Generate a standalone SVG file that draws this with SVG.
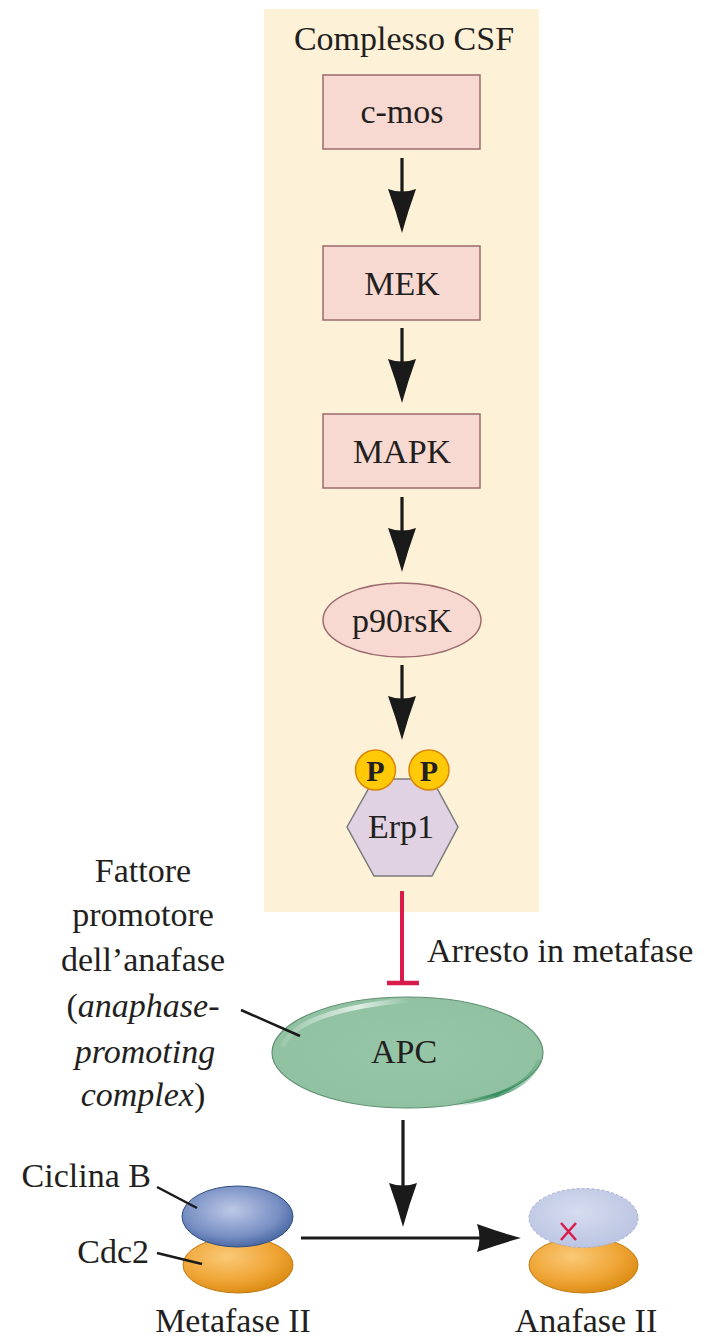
<svg xmlns="http://www.w3.org/2000/svg" width="726" height="1337" viewBox="0 0 726 1337">
<style>
text{font-family:"Liberation Serif","Times New Roman",serif;fill:#231f20;font-size:34px}
.c{text-anchor:middle}
.r{text-anchor:end}
.i{font-style:italic}
.box{fill:#F8D9D2;stroke:#9B6B6E;stroke-width:1.5}
.shaft{stroke:#1a1a1a;stroke-width:3.2;fill:none}
.lead{stroke:#1a1a1a;stroke-width:2.5;fill:none}
.pc{fill:#FFC907;stroke:#D9860C;stroke-width:1.5}
.pt{font-weight:bold;font-size:30px;text-anchor:middle}
.orange{fill:url(#gOr);stroke:#C07A12;stroke-width:1}
</style>
<defs>
<marker id="ah" viewBox="0 0 44 28" refX="14" refY="14" markerWidth="44" markerHeight="28" markerUnits="userSpaceOnUse" orient="auto">
<path d="M0,0 Q22,8 44,14 Q22,20 0,28 Q5,14 0,0 Z" fill="#1a1a1a"/>
</marker>
<radialGradient id="gOr" cx="0.4" cy="0.35" r="0.7">
<stop offset="0" stop-color="#F9C977"/>
<stop offset="0.6" stop-color="#F0A638"/>
<stop offset="1" stop-color="#D9890F"/>
</radialGradient>
<radialGradient id="gBl" cx="0.45" cy="0.4" r="0.65">
<stop offset="0" stop-color="#BCC8E6"/>
<stop offset="0.65" stop-color="#7990C4"/>
<stop offset="1" stop-color="#3F5F9C"/>
</radialGradient>
<radialGradient id="gBlF" cx="0.45" cy="0.4" r="0.65">
<stop offset="0" stop-color="#D6DCEF"/>
<stop offset="1" stop-color="#B9C3E1"/>
</radialGradient>
<radialGradient id="gApc" cx="0.5" cy="0.5" r="0.6">
<stop offset="0" stop-color="#96C6A8"/>
<stop offset="1" stop-color="#8FC1A1"/>
</radialGradient>
<linearGradient id="gHi" x1="0" y1="0" x2="1" y2="0">
<stop offset="0" stop-color="#ffffff" stop-opacity="0.1"/>
<stop offset="0.6" stop-color="#ffffff" stop-opacity="0.7"/>
<stop offset="1" stop-color="#ffffff" stop-opacity="0"/>
</linearGradient>
<linearGradient id="gDk" x1="0" y1="0" x2="1" y2="0">
<stop offset="0" stop-color="#2E8B57" stop-opacity="0"/>
<stop offset="0.5" stop-color="#2E8B57" stop-opacity="0.9"/>
<stop offset="1" stop-color="#2E8B57" stop-opacity="0.2"/>
</linearGradient>
</defs>

<g id="csf-complex">
<rect x="264" y="9" width="275" height="903" fill="#FDF1D8"/>
<text class="c" x="404" y="50">Complesso CSF</text>
</g>

<g id="cmos">
<rect class="box" x="323" y="75" width="157" height="74"/>
<text class="c" x="402" y="123">c-mos</text>
</g>
<g id="mek">
<rect class="box" x="323" y="246" width="157" height="74"/>
<text class="c" x="402" y="295">MEK</text>
</g>
<g id="mapk">
<rect class="box" x="323" y="414" width="157" height="74"/>
<text class="c" x="402" y="463">MAPK</text>
</g>
<g id="p90rsk">
<ellipse cx="402" cy="620" rx="79" ry="37" fill="#F8D9D2" stroke="#9B6B6E" stroke-width="1.5"/>
<text class="c" x="402" y="632">p90rsK</text>
</g>
<g id="erp1">
<polygon points="347,827 374,779 432,779 458,827 432,876 374,876" fill="#E1D2E3" stroke="#7a7a7a" stroke-width="1.5"/>
<circle class="pc" cx="375.5" cy="770" r="20"/>
<circle class="pc" cx="429" cy="770" r="20"/>
<text class="pt" x="375.5" y="781">P</text>
<text class="pt" x="429" y="781">P</text>
<text class="c" x="401" y="838">Erp1</text>
</g>

<g id="apc">
<ellipse cx="407.5" cy="1052.5" rx="135.5" ry="55.5" fill="url(#gApc)" stroke="#5F8F70" stroke-width="1.2"/>
<path d="M283,1045 Q300,1010 410,1000" stroke="url(#gHi)" stroke-width="5" fill="none" stroke-linecap="round"/>
<path d="M455,1104 Q525,1095 539,1062" stroke="url(#gDk)" stroke-width="5" fill="none" stroke-linecap="round"/>
<text class="c" x="404" y="1063">APC</text>
</g>

<g id="apc-label">
<text class="c" x="143" y="882">Fattore</text>
<text class="c" x="143" y="926">promotore</text>
<text class="c" x="143" y="971">dell’anafase</text>
<text class="c" x="143" y="1017">(<tspan class="i">anaphase-</tspan></text>
<text class="c i" x="145" y="1063">promoting</text>
<text class="c" x="143" y="1106"><tspan class="i">complex</tspan>)</text>
<line class="lead" x1="241" y1="1010" x2="300" y2="1036"/>
</g>

<g id="arrest-label">
<text x="427" y="962">Arresto in metafase</text>
</g>

<g id="metafase">
<ellipse class="orange" cx="238" cy="1265" rx="55" ry="28"/>
<ellipse cx="237.5" cy="1216.5" rx="55.5" ry="30.5" fill="url(#gBl)" stroke="#2F4F82" stroke-width="1"/>
<text class="r" x="151" y="1187">Ciclina B</text>
<text class="r" x="149" y="1263">Cdc2</text>
<line class="lead" x1="157" y1="1187" x2="197" y2="1208"/>
<line class="lead" x1="157" y1="1253" x2="202" y2="1264"/>
<text class="c" x="233" y="1332">Metafase II</text>
</g>

<g id="anafase">
<ellipse class="orange" cx="583.5" cy="1265" rx="54.5" ry="28"/>
<ellipse cx="583.5" cy="1218" rx="54.5" ry="29.5" fill="url(#gBlF)" stroke="#A5AFD0" stroke-width="1" stroke-dasharray="3,2"/>
<path d="M561,1223 L576,1240 M576,1223 L561,1240" stroke="#D81B4B" stroke-width="2.5" fill="none"/>
<text class="c" x="586" y="1332">Anafase II</text>
</g>

<g id="connectors">
<line class="shaft" x1="402" y1="158" x2="402" y2="203" marker-end="url(#ah)"/>
<line class="shaft" x1="402" y1="328" x2="402" y2="373" marker-end="url(#ah)"/>
<line class="shaft" x1="402" y1="497" x2="402" y2="542" marker-end="url(#ah)"/>
<line class="shaft" x1="402" y1="665" x2="402" y2="710" marker-end="url(#ah)"/>
<line x1="402" y1="891" x2="402" y2="983" stroke="#D81B4B" stroke-width="4"/>
<line x1="387" y1="983" x2="419" y2="983" stroke="#D81B4B" stroke-width="4.5"/>
<line class="shaft" x1="403" y1="1120" x2="403" y2="1197" marker-end="url(#ah)"/>
<line class="shaft" x1="301" y1="1238" x2="491" y2="1238" marker-end="url(#ah)"/>
</g>
</svg>
